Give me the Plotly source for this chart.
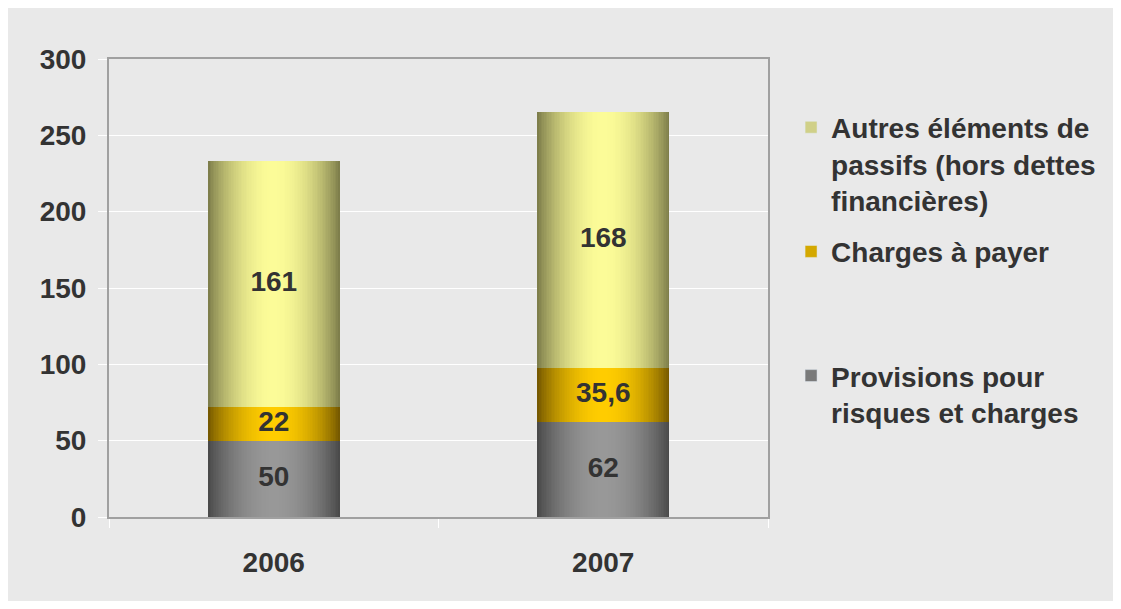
import plotly.graph_objects as go
import numpy as np

years = ["2006", "2007"]
provisions = [50, 62]
charges = [22, 35.6]
autres = [161, 168]
series_names = [
    "Provisions pour<br>risques et charges",
    "Charges à payer<br> <br> ",
    "Autres éléments de<br>passifs (hors dettes<br>financières)",
]
label_texts = [["50", "62"], ["22", "35,6"], ["161", "168"]]
y_ticks = [0, 50, 100, 150, 200, 250, 300]

FONT = "Liberation Sans, Arial, sans-serif"
TXT = "#333333"

# gradient (edge colour, centre colour) per series
grads = [
    ((70, 70, 70), (152, 152, 152)),
    ((112, 84, 0), (255, 204, 0)),
    ((120, 120, 72), (252, 252, 152)),
]
legend_cols = ["#7a7a7a", "#d4a800", "#d0d088"]

values = [provisions, charges, autres]
bases = []
acc = np.zeros(len(years))
for v in values:
    bases.append(acc.copy())
    acc = acc + np.array(v, dtype=float)

BAR_W = 0.4
N = 40

fig = go.Figure()

# nested, progressively narrower bars give a cylinder-like shading
for s, v in enumerate(values):
    e, c = grads[s]
    for k in range(N):
        r = 1.0 - k / N
        rc = r - 0.5 / N
        m = np.cos(np.pi / 2 * rc) ** 0.8
        col = tuple(int(round(e[j] + (c[j] - e[j]) * m)) for j in range(3))
        w = BAR_W * r
        fig.add_trace(go.Bar(
            x=years, y=v, base=list(bases[s]),
            width=w, offset=-w / 2,
            marker=dict(color="rgb(%d,%d,%d)" % col, line=dict(width=0)),
            showlegend=False, hoverinfo="skip",
        ))

# legend entries (top to bottom: autres, charges, provisions)
for s in [2, 1, 0]:
    fig.add_trace(go.Bar(
        x=years, y=[None, None], name=series_names[s],
        marker=dict(color=legend_cols[s]),
        legendgroup="g%d" % s, showlegend=True,
    ))

# value labels
for s, v in enumerate(values):
    fig.add_trace(go.Scatter(
        x=years, y=list(bases[s] + np.array(v) / 2.0),
        mode="text", text=label_texts[s],
        textfont=dict(family=FONT, size=28, color=TXT, weight="bold"),
        showlegend=False, hoverinfo="skip",
    ))

W, H = 1105, 593
ml, mt = 101, 51
mr = W - 762
mb = H - 509

fig.update_layout(
    width=W, height=H,
    margin=dict(l=ml, r=mr, t=mt, b=mb),
    paper_bgcolor="#e9e9e9", plot_bgcolor="#e9e9e9",
    barmode="overlay", bargap=0,
    font=dict(family=FONT, color=TXT),
    legend=dict(
        x=1.035, y=0.905, xanchor="left", yanchor="top",
        font=dict(family=FONT, size=28, color=TXT, weight="bold"),
        bgcolor="rgba(0,0,0,0)", valign="top",
        tracegroupgap=12, traceorder="grouped",
    ),
    xaxis=dict(
        type="category", range=[-0.5, 1.5],
        showline=True, linecolor="#a0a0a0", linewidth=2, mirror=True,
        ticks="outside", tickson="boundaries", tickcolor="white", ticklen=9,
        tickfont=dict(family=FONT, size=28, color=TXT, weight="bold"),
        ticklabelstandoff=19, showgrid=False, zeroline=False,
    ),
    yaxis=dict(
        range=[0, 300], tickvals=y_ticks,
        showline=True, linecolor="#a0a0a0", linewidth=2, mirror=True,
        ticks="outside", tickcolor="white", ticklen=9,
        tickfont=dict(family=FONT, size=28, color=TXT, weight="bold"),
        ticklabelstandoff=6,
        showgrid=True, gridcolor="white", gridwidth=1, zeroline=False,
    ),
)

fig.write_html("out.html")
